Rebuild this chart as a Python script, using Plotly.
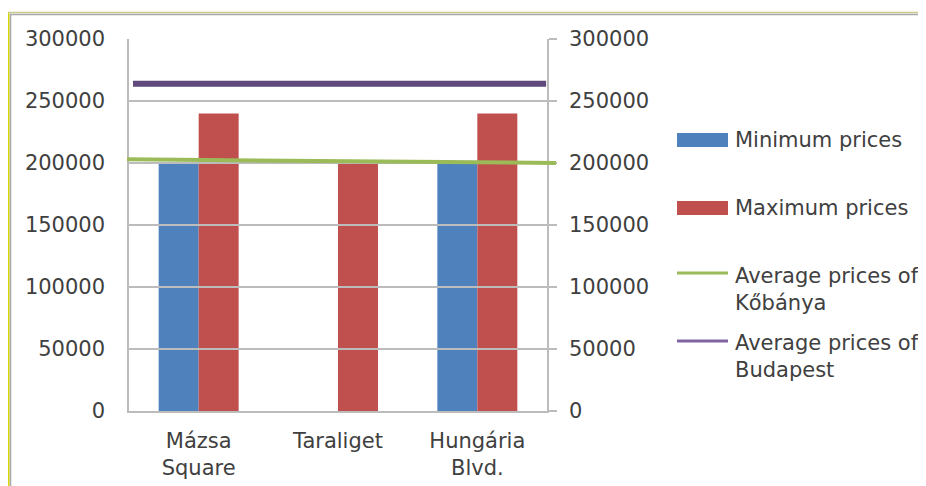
import plotly.graph_objects as go

# ---- data ----
categories = ["Mázsa<br>Square", "Taraliget", "Hungária<br>Blvd."]
min_prices = [200000, None, 200000]
max_prices = [240000, 200000, 240000]
kobanya_avg = [203000, 200000]      # start / end of the drawn line
budapest_avg = [264000, 264000]
series_names = ["Minimum prices", "Maximum prices",
                "Average prices of<br>Kőbánya", "Average prices of<br>Budapest"]
y_ticks = [0, 50000, 100000, 150000, 200000, 250000, 300000]

# ---- geometry helpers (page pixel coords -> paper) ----
OFF = 8  # default page body margin
W, H = 926, 486
ML, MR, MT, MB = 100, 300, 39 - OFF, 486 - (411 - OFF)
PW, PH = W - ML - MR, H - MT - MB


def px(x):
    return (x - OFF - ML) / PW


def py(y):
    return (H - MB - (y - OFF)) / PH


BLUE, RED, GREEN, PURPLE = "#4f81bd", "#c0504d", "#9bbb59", "#604a7d"
TXT = "#404040"
GRID = "#bcbcbc"
FONT = "DejaVu Sans"

fig = go.Figure()
fig.add_trace(go.Bar(x=categories, y=min_prices, name=series_names[0],
                     marker=dict(color=BLUE, line=dict(width=0)),
                     xaxis="x", yaxis="y"))
fig.add_trace(go.Bar(x=categories, y=max_prices, name=series_names[1],
                     marker=dict(color=RED, line=dict(width=0)),
                     xaxis="x", yaxis="y"))
# lines on a helper x axis spanning the chart width
green_span = [0.0, 1.0]
purple_span = [0.014, 0.977]
fig.add_trace(go.Scatter(x=green_span, y=kobanya_avg, mode="lines",
                         name=series_names[2], line=dict(color=GREEN, width=4),
                         xaxis="x3", yaxis="y"))
fig.add_trace(go.Scatter(x=purple_span, y=budapest_avg, mode="lines",
                         name=series_names[3], line=dict(color=PURPLE, width=6),
                         xaxis="x3", yaxis="y"))
# invisible trace to activate right axis
fig.add_trace(go.Scatter(x=[categories[0]], y=[None], xaxis="x", yaxis="y2",
                         mode="markers", showlegend=False, hoverinfo="skip"))

fig.update_layout(
    width=W, height=H,
    margin=dict(l=ML, r=MR, t=MT, b=MB, autoexpand=False),
    paper_bgcolor="white", plot_bgcolor="rgba(0,0,0,0)",
    showlegend=False,
    barmode="group", bargap=0.426, bargroupgap=0,
    font=dict(family=FONT, size=21, color=TXT),
    xaxis=dict(domain=[px(129), px(547)], anchor="y", showgrid=False,
               showline=True, linecolor=GRID, linewidth=1.5, automargin=False,
               ticks="", ticklabelstandoff=10,
               tickfont=dict(family=FONT, size=21, color=TXT)),
    xaxis3=dict(domain=[px(127), px(556)], anchor="y", range=[0, 1],
                visible=False, automargin=False),
    yaxis=dict(domain=[0, 1], anchor="x", range=[0, 300000],
               tickvals=y_ticks, ticktext=[str(v) for v in y_ticks],
               showgrid=True, gridcolor=GRID, gridwidth=1.5, automargin=False,
               zeroline=False, showline=True, linecolor=GRID, linewidth=1.5,
               ticks="", ticklabelstandoff=18,
               tickfont=dict(family=FONT, size=21, color=TXT)),
    yaxis2=dict(overlaying="y", side="right", anchor="x", range=[0, 300000],
                tickvals=y_ticks, ticktext=[str(v) for v in y_ticks],
                showgrid=False, zeroline=False, showline=True, automargin=False,
                linecolor=GRID, linewidth=1.5,
                ticks="outside", ticklen=8, tickcolor=GRID, tickwidth=1.5,
                ticklabelstandoff=8,
                tickfont=dict(family=FONT, size=21, color=TXT)),
)

shapes = []
# outer border (yellow + gray inner)
shapes.append(dict(type="line", xref="paper", yref="paper",
                   x0=px(8.5), x1=px(8.5), y0=py(12), y1=py(500),
                   line=dict(color="#d6d600", width=2)))
shapes.append(dict(type="line", xref="paper", yref="paper",
                   x0=px(8), x1=px(940), y0=py(12.5), y1=py(12.5),
                   line=dict(color="#c9c98a", width=1.5)))
shapes.append(dict(type="line", xref="paper", yref="paper",
                   x0=px(10.5), x1=px(10.5), y0=py(14), y1=py(500),
                   line=dict(color="#a8a8a8", width=1.5)))
shapes.append(dict(type="line", xref="paper", yref="paper",
                   x0=px(10), x1=px(940), y0=py(14.5), y1=py(14.5),
                   line=dict(color="#a8a8a8", width=1.5)))

# manual legend
shapes.append(dict(type="rect", xref="paper", yref="paper",
                   x0=px(677), x1=px(728), y0=py(133), y1=py(147),
                   fillcolor=BLUE, line=dict(width=0)))
shapes.append(dict(type="rect", xref="paper", yref="paper",
                   x0=px(677), x1=px(728), y0=py(201), y1=py(215),
                   fillcolor=RED, line=dict(width=0)))
shapes.append(dict(type="line", xref="paper", yref="paper",
                   x0=px(677), x1=px(728), y0=py(273), y1=py(273),
                   line=dict(color=GREEN, width=3)))
shapes.append(dict(type="line", xref="paper", yref="paper",
                   x0=px(677), x1=px(728), y0=py(341), y1=py(341),
                   line=dict(color="#8064a2", width=3)))
fig.update_layout(shapes=shapes)

leg_y = [140, 208, 276, 343]
annos = []
for name, yy in zip(series_names, leg_y):
    annos.append(dict(text=name, xref="paper", yref="paper",
                      x=px(733), y=py(yy - 14), xanchor="left", yanchor="top",
                      align="left", showarrow=False,
                      font=dict(family=FONT, size=21, color=TXT)))
fig.update_layout(annotations=annos)

fig.write_html("out.html")
